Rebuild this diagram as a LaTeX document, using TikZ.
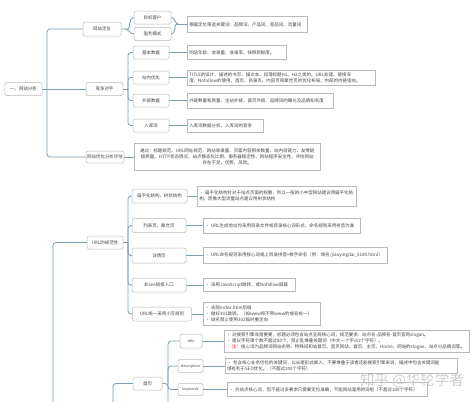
\documentclass[tikz,border=0pt]{standalone}
\usepackage{fontspec}
\setmainfont{Noto Sans CJK SC}
\usetikzlibrary{positioning}

\definecolor{linkblue}{RGB}{122,158,180}
\definecolor{boxgray}{RGB}{185,185,185}
\definecolor{inkgray}{RGB}{70,70,70}

\begin{document}
\begin{tikzpicture}[
  x=1bp, y=-1bp,
  font=\fontsize{4.5}{6}\selectfont, text=inkgray,
  topic/.style={draw=boxgray, fill=white, rounded corners=1.5bp, minimum height=13bp, minimum width=37bp, inner sep=1bp, line width=0.5bp},
  note/.style={draw=boxgray, fill=white, anchor=west, align=left, inner xsep=2bp, inner ysep=1bp, line width=0.5bp},
  link/.style={draw=linkblue, line width=0.8bp, rounded corners=3bp}
]
  \fill[white] (0,0) rectangle (474,401);
  \useasboundingbox (0,0) rectangle (474,401);
  \clip (0,0) rectangle (474,401);

  \node[topic] (root) at (23.5,89) {一、网站分析};
  \coordinate (j1) at (47,89);
  \node[topic, minimum width=38bp, minimum height=14bp] (dw) at (102,29) {网站定位};
  \node[topic] (jz) at (104.5,89) {竞争对手};
  \node[topic, minimum width=38bp, minimum height=12bp] (pg) at (105,157) {网站优化分析评估};
  \draw[link] (root) -- (j1);
  \draw[link] (j1) |- (dw);
  \draw[link] (j1) -- (jz);
  \draw[link] (j1) |- (pg);

  \node[topic] (mb) at (152.5,17.5) {目标客户};
  \node[topic] (yl) at (152.5,34) {盈利模式};
  \coordinate (b1) at (125,29);
  \coordinate (b2) at (179,24.5);
  \node[note, text width=116bp, minimum height=16bp] (dwnote) at (187,24.5) {根据定位筛选关键词：品牌词、产品词、竞品词、流量词};
  \draw[link] (dw) -- (b1) to[out=0,in=180] (mb);
  \draw[link] (b1) to[out=0,in=180] (yl);
  \draw[link] (mb) to[out=0,in=180] (b2);
  \draw[link] (yl) to[out=0,in=180] (b2) -- (dwnote);

  \coordinate (j2) at (128,89);
  \node[topic, minimum width=36bp] (jb) at (151,52.5) {基本数据};
  \node[topic, minimum width=36bp] (zn) at (151,77.5) {站内优化};
  \node[topic, minimum width=36bp] (wb) at (151,100.5) {外部数据};
  \node[topic, minimum width=36bp] (rk) at (151,125.5) {入库词};
  \draw[link] (jz) -- (j2);
  \foreach \n in {jb,zn,wb,rk} \draw[link] (j2) |- (\n);

  \node[note, text width=95bp, minimum height=14bp] (jbnote) at (187,52.5) {网站年龄、收录量、收录率、快照新鲜度。};
  \node[note, text width=184bp, minimum height=15bp] (znnote) at (187,77.5) {TITLE的设计、描述的书写、锚文本、段落标题H1、H2之类的、URL处理、链接深\\度、Nofollow的使用、首页、目录页、内容页和聚合页的优化布局、内部的内链指向。};
  \node[note, text width=142bp, minimum height=15bp] (wbnote) at (187,100.5) {外链数量和质量、全站外链、首页外链、品牌词的曝光及品牌知名度};
  \node[note, text width=72bp, minimum height=13bp] (rknote) at (187,125.5) {入库词数据分析、入库词的竞争};
  \node[note, align=center, text width=182bp, minimum height=27bp] (pgnote) at (134,157) {通过：标题规范、URL网址规范、网站收录量、页面内容相关数量、站内自链力、友情链\\接质量、HTTP状态情况、站点静态化比例、服务器稳定性、网站程序安全性，评估网站\\存在不足、优势、风险。};
  \foreach \n in {jb,zn,wb,rk,pg} \draw[link] (\n) -- (\n note);

  \node[topic, minimum width=36bp] (url) at (105,242.5) {URL的规范性};
  \coordinate (j3) at (53,410);
  \coordinate (j4) at (128,242.5);
  \draw[link] (j3) |- (url);
  \draw[link] (url) -- (j4);
  \node[topic, minimum width=55bp, minimum height=14bp] (bp) at (159.5,196) {扁平化结构、树状结构};
  \node[topic, minimum width=54bp, minimum height=14bp] (lb) at (159,225.5) {列表页、聚合页};
  \node[topic, minimum width=54bp, minimum height=15bp] (xq) at (159,255.5) {详情页};
  \node[topic, minimum width=54bp, minimum height=14bp] (fs) at (159,285) {非seo链接入口};
  \node[topic, minimum width=59bp, minimum height=14bp] (ux) at (162,314) {URL统一采用小写规则};
  \foreach \n in {bp,lb,xq,fs,ux} \draw[link] (j4) |- (\n);

  \node[note, text width=155bp, minimum height=20bp] (bpnote) at (197,196) {• 扁平化结构针对于站点页面的权重，所以一般的小中型网站建议用扁平化结\\构，而像大型流量站点建议用树状结构};
  \node[note, text width=153bp, minimum height=15bp] (lbnote) at (203,225.5) {• URL生成地址均采用目录文件或目录核心词形式，命名规则采用拼音为准};
  \node[note, text width=180bp, minimum height=16bp] (xqnote) at (203,255.5) {• URL命名规则采用核心词或上目录拼音+数字命名（例：域名/jiaoyingdai\_5189.html）};
  \node[note, text width=88bp, minimum height=13bp] (fsnote) at (203,285) {\mbox{• 采用JavaScript跳转、或Nofollow屏蔽}};
  \node[note, text width=113bp, minimum height=23bp] (uxnote) at (203,314) {• 去除index.html后缀\\• 做好301跳转。（如www和不带www的域名统一）\\• 域名禁止使用302临时重定向};
  \foreach \n in {bp,lb,xq,fs,ux} \draw[link] (\n) -- (\n note);

  \coordinate (j5) at (113,410);
  \node[topic, minimum width=29bp] (home) at (147.5,383.5) {首页};
  \draw[link] (j5) |- (home);
  \coordinate (j6) at (168,383.5);
  \coordinate (j6b) at (168,410);
  \draw[link] (home) -- (j6) -- (j6b);
  \node[topic, minimum width=22bp, minimum height=14bp, font=\fontsize{3.6}{4}\selectfont] (ttl) at (191,341) {title};
  \node[topic, minimum width=25bp, font=\fontsize{3.6}{4}\selectfont] (desc) at (190.5,366) {description};
  \node[topic, minimum width=25bp, minimum height=12bp, font=\fontsize{3.6}{4}\selectfont] (kw) at (190.5,389.5) {keywords};
  \foreach \n in {ttl,desc,kw} \draw[link] (j6) |- (\n);

  \node[note, text width=241bp, minimum height=22bp] (ttlnote) at (224,341) {• 对搜索引擎非常重要，标题必须包含站点全局核心词，规范要求：站点名-品牌名-首页官网slogan。\\• 建议字符串个数不超过80个，禁止乱堆叠关键词（中文一个字占2个字符）。\\{\color{red}• 注：}核心词为品牌词网站名称、特殊词和站首页、首页网站、首页、主页、Home、网站的slogan、站点分品牌词等。};
  \node[note, text width=228bp, minimum height=15bp] (descnote) at (225,366) {• 包含核心业务优化的关键词，以长尾形式嵌入，不要堆叠于读者还能搜索引擎来说，描述中包含关键词能\\够有利于SEO优化。（不超过200个字符）};
  \node[note, text width=196bp, minimum height=14bp] (kwnote) at (227,389.5) {• 为站点核心词，但不能过多要求只需要定位准确，不能网站滥用的词组（不超过100个字符）};
  \foreach \n in {ttl,desc,kw} \draw[link] (\n) -- (\n note);

  \node[font=\fontsize{14.5}{15}\selectfont, text=gray!45, opacity=0.85] (mark) at (412,381) {知乎 @华轮学者};
\end{tikzpicture}
\end{document}
